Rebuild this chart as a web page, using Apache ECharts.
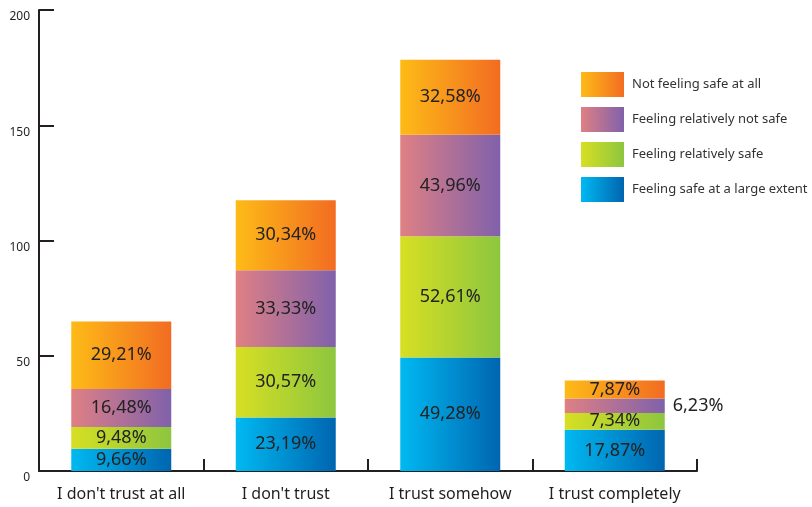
<!DOCTYPE html>
<html>
<head>
<meta charset="utf-8">
<script src="https://cdn.jsdelivr.net/npm/echarts@6/dist/echarts.min.js"></script>
<style>
  html, body { margin: 0; padding: 0; background: #fff; }
  #chart { width: 812px; height: 507px; }
</style>
</head>
<body>
<div id="chart"></div>
<script>
// Trust level categories along the x axis
const categories = ["I don't trust at all", "I don't trust", "I trust somehow", "I trust completely"];

// Stacked segments, bottom to top
const safeLargeExtent   = [9.66, 23.19, 49.28, 17.87];
const relativelySafe    = [9.48, 30.57, 52.61, 7.34];
const relativelyNotSafe = [16.48, 33.33, 43.96, 6.23];
const notSafeAtAll      = [29.21, 30.34, 32.58, 7.87];

const seriesNames = [
  'Feeling safe at a large extent',
  'Feeling relatively safe',
  'Feeling relatively not safe',
  'Not feeling safe at all'
];

const FONT = 'Noto Sans';
const TEXT = '#231f20';

function grad(from, to) {
  return new echarts.graphic.LinearGradient(0, 0, 1, 0, [
    { offset: 0, color: from },
    { offset: 1, color: to }
  ]);
}

const fills = [
  grad('#00b9f1', '#0065b0'),
  grad('#d7df23', '#8dc63f'),
  grad('#df8084', '#8061ab'),
  grad('#fdbb17', '#f26c22')
];

const fmt = p => p.value.toFixed(2).replace('.', ',') + '%';

function makeSeries(name, values, fill, idx) {
  const data = values.map((v, i) => {
    // the thin pink segment in the last column gets its label outside
    if (idx === 2 && i === 3) {
      return { value: v, label: { position: 'right', distance: 8 } };
    }
    return v;
  });
  return {
    name: name,
    type: 'bar',
    stack: 'total',
    barWidth: 100,
    data: data,
    itemStyle: { color: fill },
    label: {
      show: true,
      position: 'inside',
      formatter: fmt,
      color: '#222',
      fontFamily: FONT,
      fontSize: 18
    },
    emphasis: { disabled: true }
  };
}

const chart = echarts.init(document.getElementById('chart'), null, { renderer: 'canvas' });

chart.setOption({
  animation: false,
  grid: { left: 39, right: 115, top: 10, bottom: 36, containLabel: false },
  legend: {
    data: seriesNames.slice().reverse(),
    orient: 'vertical',
    left: 581,
    top: 72,
    padding: 0,
    itemWidth: 43,
    itemHeight: 25,
    itemGap: 10,
    icon: 'rect',
    textStyle: { fontFamily: FONT, fontSize: 13, color: '#333', padding: [0, 0, 0, 3] },
    selectedMode: false
  },
  xAxis: {
    type: 'category',
    data: categories,
    axisLine: { lineStyle: { color: TEXT, width: 2 } },
    axisTick: { show: true, inside: true, interval: 0, length: 12, lineStyle: { color: TEXT, width: 2 } },
    axisLabel: { fontFamily: FONT, fontSize: 16, color: TEXT, margin: 15, interval: 0 }
  },
  yAxis: {
    type: 'value',
    min: 0,
    max: 200,
    interval: 50,
    splitLine: { show: false },
    axisLine: { show: true, lineStyle: { color: TEXT, width: 2 } },
    axisTick: { show: true, inside: true, length: 15, lineStyle: { color: TEXT, width: 2 } },
    axisLabel: {
      fontFamily: FONT, fontSize: 12, color: TEXT, margin: 9,
      verticalAlign: 'top', padding: [1, 0, 0, 0]
    }
  },
  series: [
    makeSeries(seriesNames[0], safeLargeExtent, fills[0], 0),
    makeSeries(seriesNames[1], relativelySafe, fills[1], 1),
    makeSeries(seriesNames[2], relativelyNotSafe, fills[2], 2),
    makeSeries(seriesNames[3], notSafeAtAll, fills[3], 3)
  ]
});
</script>
</body>
</html>
